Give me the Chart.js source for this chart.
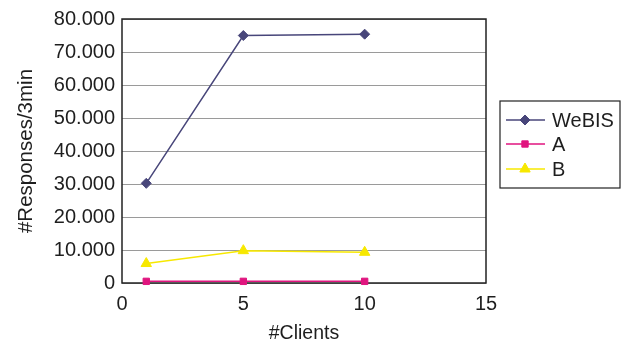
<!DOCTYPE html>
<html>
<head>
<meta charset="utf-8">
<script src="https://cdn.jsdelivr.net/npm/chart.js@4"></script>
<style>
  html, body { margin: 0; padding: 0; background: #fff; }
  #wrap { width: 623px; height: 342px; }
</style>
</head>
<body>
<div id="wrap"><canvas id="c" width="623" height="342"></canvas></div>
<script>
// Throughput per number of clients
const clients = [1, 5, 10];
const webisValues = [30200, 75000, 75400];
const aValues = [500, 500, 500];
const bValues = [5900, 9800, 9300];
const seriesNames = ['WeBIS', 'A', 'B'];
const yTicks = [0, 10000, 20000, 30000, 40000, 50000, 60000, 70000, 80000];
const xTicks = [0, 5, 10, 15];

const FONT = 'Liberation Sans, Arial, sans-serif';
const TEXT = '#1e1e1e';

function toPoints(vals) {
  return clients.map((c, i) => ({ x: c, y: vals[i] }));
}
function fmtThousands(v) {
  if (v === 0) return '0';
  return (v / 1000).toFixed(0) + '.000';
}

// Black frame round the plot area
const framePlugin = {
  id: 'frame',
  beforeDatasetsDraw(chart) {
    const a = chart.chartArea, ctx = chart.ctx;
    ctx.save();
    ctx.strokeStyle = '#222';
    ctx.lineWidth = 1.5;
    ctx.strokeRect(a.left, a.top, a.right - a.left, a.bottom - a.top);
    ctx.restore();
  }
};

// Boxed legend with line + marker samples
const boxLegend = {
  id: 'boxLegend',
  afterDraw(chart) {
    const ctx = chart.ctx;
    const bx = 500, by = 101, bw = 120, bh = 87;
    ctx.save();
    ctx.fillStyle = '#fff';
    ctx.fillRect(bx, by, bw, bh);
    ctx.strokeStyle = '#222';
    ctx.lineWidth = 1.2;
    ctx.strokeRect(bx, by, bw, bh);
    const rows = [120, 144, 169];
    chart.data.datasets.forEach((ds, i) => {
      const y = rows[i];
      ctx.strokeStyle = ds.borderColor;
      ctx.lineWidth = 1.5;
      ctx.beginPath();
      ctx.moveTo(506, y);
      ctx.lineTo(545, y);
      ctx.stroke();
      ctx.fillStyle = ds.pointBackgroundColor;
      ctx.strokeStyle = ds.pointBorderColor;
      ctx.lineWidth = 1;
      Chart.helpers.drawPoint(ctx, {
        pointStyle: ds.pointStyle,
        radius: ds.pointRadius,
        rotation: 0,
        borderWidth: 1
      }, 525, y);
      ctx.fillStyle = TEXT;
      ctx.font = '20px ' + FONT;
      ctx.textBaseline = 'middle';
      ctx.textAlign = 'left';
      ctx.fillText(ds.label, 552, y + 1);
    });
    ctx.restore();
  }
};

const colors = ['#48467a', '#e0157f', '#f7e800'];
const styles = ['rectRot', 'rect', 'triangle'];
const radii = [5, 4.5, 6];
const values = [webisValues, aValues, bValues];

new Chart(document.getElementById('c'), {
  type: 'line',
  data: {
    datasets: seriesNames.map((name, i) => ({
      label: name,
      data: toPoints(values[i]),
      borderColor: colors[i],
      backgroundColor: colors[i],
      pointBackgroundColor: colors[i],
      pointBorderColor: colors[i],
      pointStyle: styles[i],
      pointRadius: radii[i],
      pointBorderWidth: 1,
      borderWidth: 1.5,
      tension: 0,
      fill: false,
      clip: 8
    }))
  },
  options: {
    responsive: false,
    animation: false,
    devicePixelRatio: 1,
    layout: { padding: { top: 18, right: 137, left: 0, bottom: 0 } },
    plugins: {
      legend: { display: false },
      tooltip: { enabled: false }
    },
    scales: {
      x: {
        type: 'linear',
        min: 0, max: 15,
        afterBuildTicks(scale) { scale.ticks = xTicks.map(v => ({ value: v })); },
        afterFit(scale) { scale.height = 59; },
        grid: { display: false, drawTicks: false },
        border: { display: false },
        ticks: { color: TEXT, font: { family: FONT, size: 20 }, padding: 9, maxRotation: 0 },
        title: { display: true, text: '#Clients', color: TEXT, font: { family: FONT, size: 19.5 }, padding: { top: 4, bottom: -3 } }
      },
      y: {
        type: 'linear',
        min: 0, max: 80000,
        afterBuildTicks(scale) { scale.ticks = yTicks.map(v => ({ value: v })); },
        afterFit(scale) { scale.width = 122; },
        grid: { color: '#9a9a9a', lineWidth: 1, drawTicks: false },
        border: { display: false },
        ticks: { color: TEXT, font: { family: FONT, size: 20 }, padding: 7, callback: v => fmtThousands(v) },
        title: { display: true, text: '#Responses/3min', color: TEXT, font: { family: FONT, size: 20.5 }, padding: { top: 14, bottom: 0 } }
      }
    }
  },
  plugins: [framePlugin, boxLegend]
});
</script>
</body>
</html>
